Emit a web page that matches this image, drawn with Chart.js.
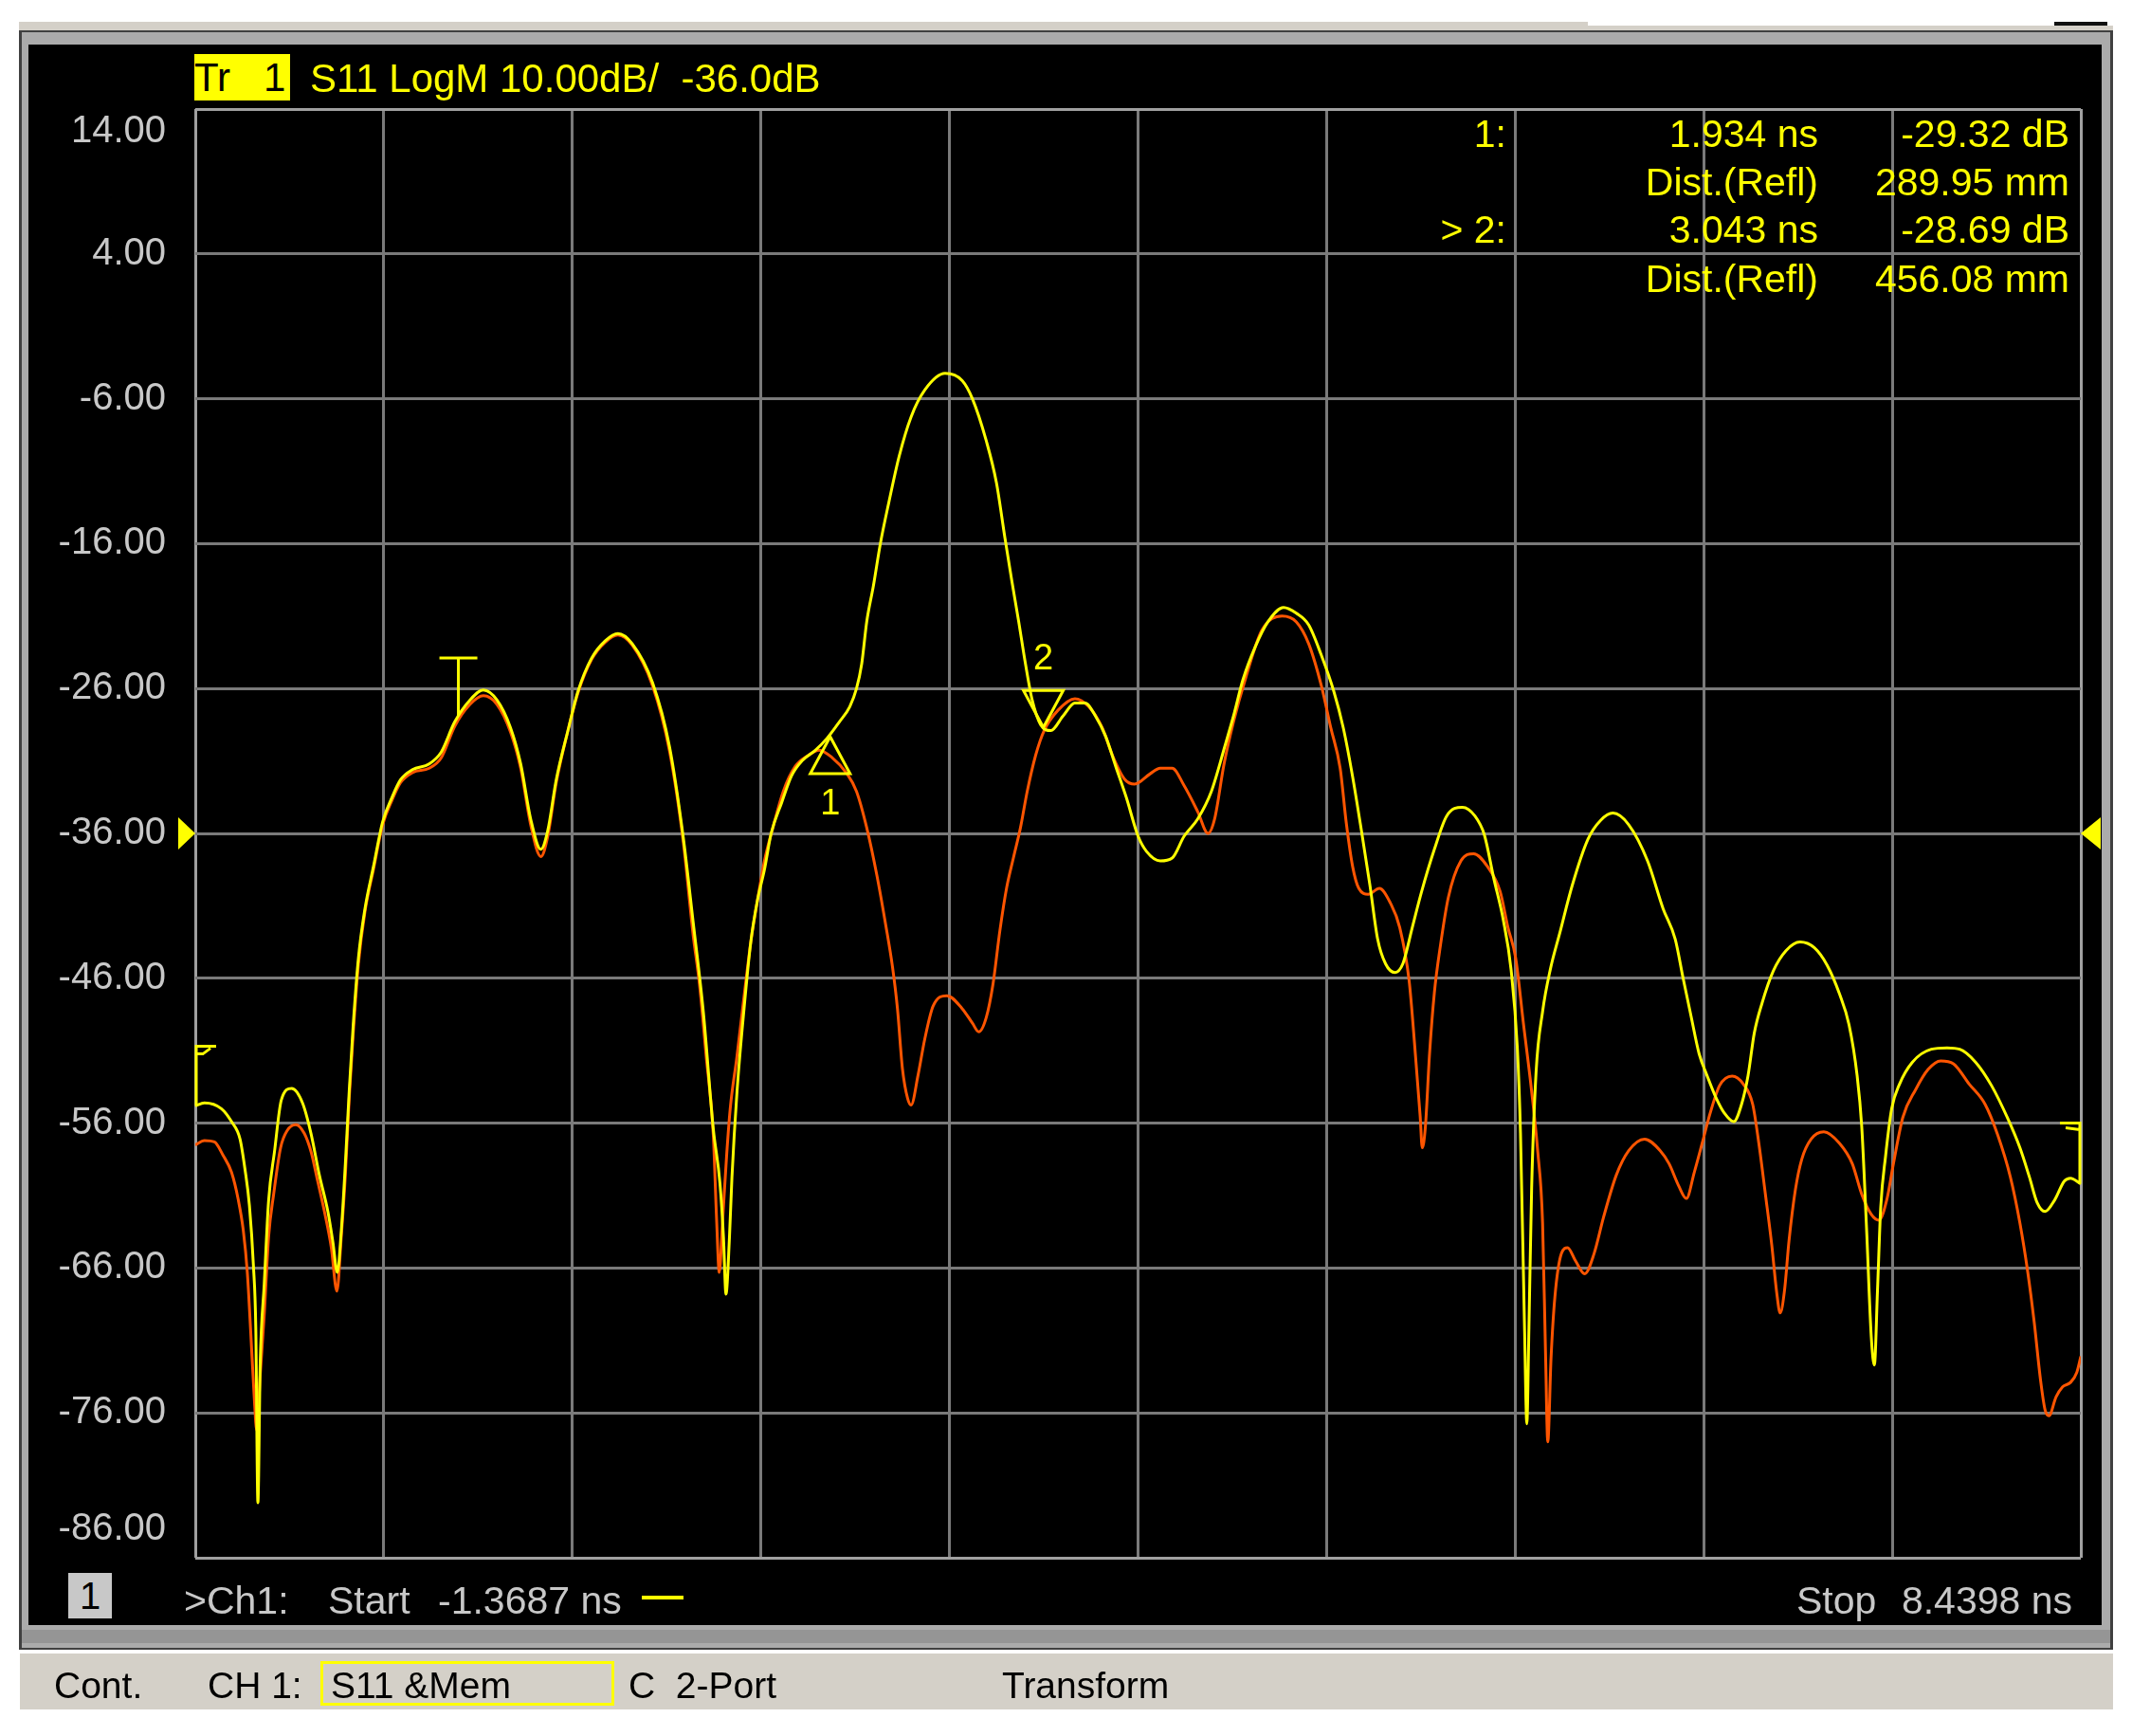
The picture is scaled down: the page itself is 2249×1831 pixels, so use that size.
<!DOCTYPE html>
<html>
<head>
<meta charset="utf-8">
<title>S11 LogM - Time Domain</title>
<script src="https://cdn.jsdelivr.net/npm/chart.js@4.4.1/dist/chart.umd.min.js"></script>
<style>
  html, body { margin: 0; padding: 0; background: #fff; }
  body { width: 2249px; height: 1831px; position: relative; overflow: hidden;
         font-family: "Liberation Sans", Arial, sans-serif; }
  .blk { position: absolute; }
  .txt { position: absolute; white-space: pre; z-index: 3; }
  .yel { color: #ffff00; font-size: 41px; line-height: 50px; }
  .gry { color: #c8c8c8; font-size: 41px; line-height: 50px; }
  .st  { color: #000; font-size: 39px; line-height: 44px; top: 1756px; }
  canvas { position: absolute; left: 0; top: 0; z-index: 2; }
</style>
</head>
<body>
  <!-- marco del instrumento -->
  <div class="blk" style="left:20px;top:23px;width:1655px;height:10px;background:#d4d0c8"></div>
  <div class="blk" style="left:1675px;top:27px;width:554px;height:6px;background:#d4d0c8"></div>
  <div class="blk" style="left:2167px;top:23px;width:56px;height:4px;background:#111"></div>
  <div class="blk" style="left:20px;top:32px;width:2209px;height:1708px;background:#404040"></div>
  <div class="blk" style="left:23px;top:34px;width:2203px;height:1704px;background:#ababab"></div>
  <div class="blk" style="left:23px;top:1719px;width:2203px;height:14px;background:#959595"></div>
  <div class="blk" style="left:30px;top:47px;width:2187px;height:1667px;background:#000"></div>
  <div class="blk" style="left:21px;top:1744px;width:2208px;height:59px;background:#d4d0c8"></div>

  <canvas id="vnaChart" width="2249" height="1831"></canvas>

  <!-- cabecera de la traza -->
  <div class="txt" style="left:205px;top:57px;width:101px;height:49px;background:#ffff00;color:#000;font-size:42px;line-height:49px;">Tr   1</div>
  <div class="txt yel" style="left:327px;top:58px;font-size:42px;">S11 LogM 10.00dB/  -36.0dB</div>

  <!-- tabla de marcadores -->
  <div class="txt yel" style="right:660px;top:116px;">1:</div>
  <div class="txt yel" style="right:331px;top:116px;">1.934 ns</div>
  <div class="txt yel" style="right:66px;top:116px;">-29.32 dB</div>
  <div class="txt yel" style="right:331px;top:167px;">Dist.(Refl)</div>
  <div class="txt yel" style="right:66px;top:167px;">289.95 mm</div>
  <div class="txt yel" style="right:660px;top:217px;">&gt; 2:</div>
  <div class="txt yel" style="right:331px;top:217px;">3.043 ns</div>
  <div class="txt yel" style="right:66px;top:217px;">-28.69 dB</div>
  <div class="txt yel" style="right:331px;top:269px;">Dist.(Refl)</div>
  <div class="txt yel" style="right:66px;top:269px;">456.08 mm</div>

  <!-- linea inferior del canal -->
  <div class="txt" style="left:72px;top:1659px;width:46px;height:48px;background:#c8c8c8;color:#000;font-size:40px;line-height:48px;text-align:center;">1</div>
  <div class="txt gry" style="left:194px;top:1663px;">&gt;Ch1:</div>
  <div class="txt gry" style="left:346px;top:1663px;">Start</div>
  <div class="txt gry" style="left:462px;top:1663px;">-1.3687 ns</div>
  <div class="blk" style="left:677px;top:1683px;width:44px;height:4px;background:#ffff00;z-index:3"></div>
  <div class="txt gry" style="left:1895px;top:1663px;">Stop</div>
  <div class="txt gry" style="right:63px;top:1663px;">8.4398 ns</div>

  <!-- barra de estado -->
  <div class="txt st" style="left:57px;">Cont.</div>
  <div class="txt st" style="left:219px;">CH 1:</div>
  <div class="blk" style="left:338px;top:1752px;width:310px;height:47px;border:3px solid #ffff00;box-sizing:border-box;z-index:3"></div>
  <div class="txt st" style="left:349px;">S11 &amp;Mem</div>
  <div class="txt st" style="left:663px;">C  2-Port</div>
  <div class="txt st" style="left:1057px;">Transform</div>

<script>
// Traza actual S11 (ns, dB)
const yellowTime = [-1.369,-1.321,-1.233,-1.180,-1.136,-1.110,-1.087,-1.066,-1.054,-1.043,-1.031,-1.010,-0.987,-0.957,-0.921,-0.867,-0.811,-0.767,-0.723,-0.679,-0.653,-0.630,-0.609,-0.588,-0.568,-0.547,-0.520,-0.486,-0.442,-0.394,-0.345,-0.301,-0.239,-0.152,-0.090,-0.019,0.060,0.130,0.201,0.271,0.324,0.376,0.429,0.465,0.509,0.570,0.622,0.693,0.764,0.830,0.904,1.010,1.098,1.169,1.221,1.274,1.326,1.361,1.379,1.392,1.410,1.423,1.449,1.486,1.521,1.556,1.592,1.627,1.681,1.734,1.787,1.858,1.920,1.982,2.036,2.071,2.098,2.124,2.159,2.195,2.240,2.293,2.355,2.426,2.532,2.621,2.674,2.746,2.799,2.843,2.878,2.915,2.950,2.985,3.029,3.082,3.145,3.207,3.260,3.314,3.367,3.420,3.474,3.536,3.580,3.651,3.713,3.775,3.846,3.917,3.989,4.032,4.081,4.146,4.211,4.293,4.359,4.423,4.489,4.554,4.603,4.652,4.701,4.742,4.782,4.823,4.872,4.913,4.962,5.011,5.077,5.141,5.223,5.288,5.337,5.386,5.436,5.476,5.509,5.525,5.546,5.558,5.569,5.583,5.606,5.640,5.680,5.729,5.794,5.876,5.942,6.006,6.088,6.186,6.267,6.330,6.371,6.412,6.454,6.495,6.544,6.585,6.634,6.675,6.709,6.741,6.782,6.840,6.906,6.979,7.054,7.120,7.185,7.234,7.276,7.300,7.325,7.350,7.366,7.382,7.399,7.424,7.456,7.497,7.563,7.662,7.744,7.810,7.893,7.975,8.057,8.123,8.172,8.213,8.254,8.304,8.354,8.386,8.440];
const yellowDb = [-54.8,-54.6,-55.0,-55.9,-57.1,-59.2,-61.7,-65.9,-70.1,-82.2,-72.6,-67.1,-61.3,-58.0,-54.4,-53.6,-54.6,-56.7,-59.6,-62.1,-64.2,-66.3,-63.4,-58.8,-53.8,-49.2,-44.6,-41.2,-38.3,-35.2,-33.5,-32.3,-31.6,-31.2,-30.4,-28.3,-26.8,-26.1,-26.8,-28.7,-31.2,-35.0,-37.1,-35.8,-32.3,-28.9,-26.2,-23.9,-22.7,-22.2,-22.9,-25.6,-30.0,-36.2,-42.1,-48.3,-56.4,-60.2,-63.9,-67.8,-63.9,-59.75,-53.9,-48.1,-43.5,-40.6,-38.5,-36.0,-33.9,-32.0,-31.0,-30.25,-29.4,-28.3,-27.25,-26.0,-24.3,-21.4,-18.9,-16.0,-13.1,-9.96,-7.25,-5.4,-4.25,-4.75,-6.0,-8.9,-11.8,-15.6,-18.5,-21.4,-24.3,-26.8,-28.5,-28.9,-27.9,-27.0,-27.0,-27.9,-29.3,-31.4,-33.5,-36.2,-37.25,-37.9,-37.7,-36.2,-35.0,-33.1,-29.9,-27.9,-25.4,-23.1,-21.4,-20.4,-20.8,-21.6,-23.7,-26.2,-28.7,-32.1,-36.1,-39.6,-43.3,-45.0,-45.6,-45.0,-42.5,-40.0,-37.1,-34.8,-34.2,-34.8,-36.1,-39.1,-42.0,-45.4,-50.9,-56.7,-70.1,-76.75,-70.1,-60.5,-52.5,-48.3,-45.4,-42.9,-39.6,-36.4,-35.1,-34.6,-35.4,-37.9,-41.2,-43.3,-46.0,-48.6,-51.2,-52.7,-54.3,-55.3,-55.9,-54.7,-52.7,-49.8,-47.7,-45.5,-44.1,-43.5,-43.9,-45.1,-47.1,-49.2,-52.7,-56.2,-63.2,-70.8,-72.7,-67.6,-61.8,-58.3,-55.0,-53.3,-51.8,-50.9,-50.8,-50.9,-51.8,-53.4,-55.6,-57.7,-59.7,-61.5,-62.1,-61.3,-60.0,-59.8,-60.2];

// Traza en memoria (ns, dB)
const memTime = [-1.369,-1.321,-1.269,-1.225,-1.180,-1.145,-1.119,-1.098,-1.080,-1.063,-1.049,-1.031,-1.010,-0.987,-0.961,-0.925,-0.890,-0.846,-0.802,-0.766,-0.732,-0.697,-0.661,-0.632,-0.609,-0.588,-0.568,-0.547,-0.520,-0.486,-0.442,-0.394,-0.345,-0.301,-0.239,-0.152,-0.090,-0.019,0.060,0.130,0.201,0.271,0.324,0.376,0.429,0.465,0.509,0.570,0.622,0.693,0.764,0.830,0.904,1.010,1.098,1.169,1.221,1.254,1.289,1.326,1.343,1.357,1.375,1.396,1.414,1.449,1.486,1.521,1.556,1.592,1.636,1.690,1.751,1.822,1.876,1.947,2.017,2.071,2.124,2.177,2.222,2.258,2.284,2.310,2.337,2.355,2.391,2.426,2.470,2.541,2.621,2.674,2.707,2.746,2.781,2.817,2.852,2.887,2.924,2.959,3.003,3.047,3.119,3.207,3.279,3.349,3.402,3.465,3.518,3.597,3.651,3.713,3.775,3.846,3.900,3.934,3.983,4.032,4.097,4.179,4.285,4.359,4.423,4.489,4.538,4.587,4.619,4.652,4.684,4.733,4.791,4.848,4.897,4.946,4.978,5.003,5.014,5.030,5.052,5.077,5.109,5.150,5.215,5.281,5.354,5.419,5.460,5.500,5.541,5.583,5.615,5.640,5.655,5.667,5.684,5.704,5.738,5.770,5.811,5.859,5.908,5.957,6.023,6.088,6.170,6.252,6.298,6.347,6.388,6.429,6.470,6.512,6.561,6.626,6.684,6.733,6.765,6.799,6.832,6.857,6.876,6.898,6.922,6.955,6.988,7.037,7.103,7.185,7.251,7.300,7.350,7.390,7.432,7.465,7.514,7.580,7.645,7.711,7.777,7.859,7.942,8.007,8.073,8.123,8.164,8.197,8.230,8.254,8.274,8.311,8.345,8.386,8.419,8.440];
const memDb = [-57.5,-57.2,-57.3,-58.2,-59.4,-61.3,-63.4,-66.3,-70.5,-74.7,-77.2,-73.4,-69.2,-63.8,-60.9,-57.7,-56.5,-56.1,-56.7,-58.0,-60.0,-62.1,-64.6,-67.6,-63.8,-59.6,-54.3,-49.8,-45.0,-41.4,-38.5,-35.4,-33.7,-32.5,-31.8,-31.5,-30.8,-28.6,-27.1,-26.5,-27.1,-29.0,-31.5,-35.4,-37.6,-36.2,-32.5,-28.9,-26.3,-24.0,-22.8,-22.3,-23.0,-25.8,-30.3,-36.5,-43.0,-46.4,-51.4,-56.8,-62.6,-66.3,-62.6,-58.1,-55.0,-51.4,-47.25,-43.5,-40.6,-37.9,-35.6,-33.1,-31.4,-30.6,-30.25,-30.8,-31.8,-33.1,-35.6,-38.9,-42.25,-45.2,-48.1,-52.25,-54.3,-54.75,-52.7,-50.2,-47.9,-47.2,-48.1,-49.1,-49.7,-48.7,-46.4,-42.7,-39.75,-37.7,-35.6,-33.1,-30.6,-28.9,-27.5,-26.7,-27.25,-28.7,-30.6,-32.25,-32.6,-31.9,-31.5,-31.5,-32.7,-34.5,-36.0,-35.0,-31.2,-28.3,-25.2,-22.0,-21.0,-21.4,-22.9,-25.8,-28.7,-31.5,-35.3,-38.3,-39.8,-40.2,-39.8,-40.8,-42.5,-46.2,-51.2,-55.5,-57.7,-56.3,-51.2,-47.0,-43.7,-40.4,-37.9,-37.4,-38.3,-40.0,-42.5,-44.6,-49.2,-53.8,-58.0,-62.9,-71.7,-78.0,-72.2,-68.0,-65.0,-64.6,-65.5,-66.4,-65.0,-62.5,-59.6,-57.9,-57.1,-57.9,-58.8,-60.3,-61.2,-59.4,-57.4,-55.3,-53.4,-52.75,-53.3,-54.7,-57.4,-60.9,-64.4,-67.6,-69.1,-67.6,-64.1,-60.6,-58.5,-57.1,-56.6,-57.4,-58.8,-60.9,-62.3,-62.7,-61.2,-58.8,-55.6,-53.7,-52.3,-51.7,-51.9,-53.3,-54.7,-56.8,-59.7,-62.9,-66.3,-69.7,-73.7,-75.8,-76.2,-74.9,-74.2,-73.9,-73.2,-72.1];

// Rejilla: 10 divisiones entre Start y Stop, 10 dB/div
const xGridTimes = [-1.3687, -0.3879, 0.5930, 1.5738, 2.5547, 3.5356, 4.5164, 5.4973, 6.4781, 7.4590, 8.4398];
const yTickValues = [14, 4, -6, -16, -26, -36, -46, -56, -66, -76, -86];
const yTickLabels = ['14.00', '4.00', '-6.00', '-16.00', '-26.00', '-36.00', '-46.00', '-56.00', '-66.00', '-76.00', '-86.00'];
const refLevel = -36;

// Marcadores
const markerTimes = [1.934, 3.043];
const markerValues = [-29.32, -28.69];
const markerNames = ['1', '2'];

// Marca en T (0 ns) y banderas de inicio/fin de traza
const teeTime = 0.0;
const teeValues = [-27.9, -23.9];
const startFlagValues = [-54.8, -50.7];
const endFlagValues = [-60.2, -56.0];

const YELLOW = '#ffff00';
const ORANGE = '#ff5500';

window.addEventListener('DOMContentLoaded', () => {
    const vnaDecor = {
        id: 'vnaDecor',
        afterDraw(chart) {
            const ctx = chart.ctx;
            const area = chart.chartArea;
            const xs = chart.scales.x;
            const ys = chart.scales.y;
            ctx.save();

            // Etiquetas del eje Y
            ctx.font = '40px "Liberation Sans", Arial, sans-serif';
            ctx.fillStyle = '#c8c8c8';
            ctx.textAlign = 'right';
            ctx.textBaseline = 'middle';
            yTickValues.forEach((v, i) => {
                let y = ys.getPixelForValue(v);
                if (i === 0) y += 24;
                if (i === yTickValues.length - 1) y -= 30;
                ctx.fillText(yTickLabels[i], area.left - 31, y);
            });

            // Triángulos del nivel de referencia
            const yr = ys.getPixelForValue(refLevel);
            ctx.fillStyle = YELLOW;
            ctx.beginPath();
            ctx.moveTo(area.left - 18, yr - 17);
            ctx.lineTo(area.left, yr);
            ctx.lineTo(area.left - 18, yr + 17);
            ctx.closePath();
            ctx.fill();
            ctx.beginPath();
            ctx.moveTo(area.right + 21, yr - 17);
            ctx.lineTo(area.right, yr);
            ctx.lineTo(area.right + 21, yr + 17);
            ctx.closePath();
            ctx.fill();

            ctx.strokeStyle = YELLOW;
            ctx.lineWidth = 3;

            // Marcadores 1 y 2
            ctx.font = '38px "Liberation Sans", Arial, sans-serif';
            ctx.textAlign = 'center';
            markerTimes.forEach((t, i) => {
                const x = xs.getPixelForValue(t);
                const y = ys.getPixelForValue(markerValues[i]);
                const dir = i === 1 ? -1 : 1;
                ctx.beginPath();
                ctx.moveTo(x, y);
                ctx.lineTo(x - 21, y + dir * 39);
                ctx.lineTo(x + 21, y + dir * 39);
                ctx.closePath();
                ctx.stroke();
                ctx.fillText(markerNames[i], x, y + dir * 72);
            });

            // Marca en T
            const xt = xs.getPixelForValue(teeTime);
            const yt0 = ys.getPixelForValue(teeValues[0]);
            const yt1 = ys.getPixelForValue(teeValues[1]);
            ctx.beginPath();
            ctx.moveTo(xt, yt0);
            ctx.lineTo(xt, yt1);
            ctx.moveTo(xt - 20, yt1);
            ctx.lineTo(xt + 20, yt1);
            ctx.stroke();

            // Banderas de inicio y fin de la traza
            const ys0 = ys.getPixelForValue(startFlagValues[0]);
            const ys1 = ys.getPixelForValue(startFlagValues[1]);
            ctx.beginPath();
            ctx.moveTo(area.left + 1, ys0);
            ctx.lineTo(area.left + 1, ys1);
            ctx.lineTo(area.left + 22, ys1);
            ctx.moveTo(area.left + 1, ys1 + 8);
            ctx.lineTo(area.left + 8, ys1 + 8);
            ctx.lineTo(area.left + 16, ys1 + 2);
            ctx.stroke();
            const ye0 = ys.getPixelForValue(endFlagValues[0]);
            const ye1 = ys.getPixelForValue(endFlagValues[1]);
            ctx.beginPath();
            ctx.moveTo(area.right - 1, ye0);
            ctx.lineTo(area.right - 1, ye1);
            ctx.lineTo(area.right - 22, ye1);
            ctx.moveTo(area.right - 1, ye1 + 7);
            ctx.lineTo(area.right - 16, ye1 + 5);
            ctx.stroke();

            ctx.restore();
        }
    };

    const gridColor = (c) => (c.index === 0 || c.index === 10) ? '#a0a0a0' : '#7a7a7a';

    const ctxVna = document.getElementById('vnaChart').getContext('2d');
    new Chart(ctxVna, {
        type: 'line',
        data: {
            datasets: [{
                label: 'S11',
                data: yellowTime.map((t, i) => ({ x: t, y: yellowDb[i] })),
                borderColor: YELLOW,
                borderWidth: 3,
                pointRadius: 0,
                cubicInterpolationMode: 'monotone'
            }, {
                label: 'Mem',
                data: memTime.map((t, i) => ({ x: t, y: memDb[i] })),
                borderColor: ORANGE,
                borderWidth: 3,
                pointRadius: 0,
                cubicInterpolationMode: 'monotone'
            }]
        },
        options: {
            responsive: false,
            animation: false,
            devicePixelRatio: 1,
            layout: { padding: { left: 206, top: 115, right: 54, bottom: 188 } },
            plugins: { legend: { display: false }, tooltip: { enabled: false } },
            scales: {
                x: {
                    type: 'linear',
                    min: xGridTimes[0],
                    max: xGridTimes[xGridTimes.length - 1],
                    afterBuildTicks: (axis) => { axis.ticks = xGridTimes.map(v => ({ value: v })); },
                    ticks: { display: false },
                    border: { display: false },
                    grid: { color: gridColor, lineWidth: 3, drawTicks: false }
                },
                y: {
                    type: 'linear',
                    min: -86,
                    max: 14,
                    afterBuildTicks: (axis) => { axis.ticks = yTickValues.map(v => ({ value: v })); },
                    ticks: { display: false },
                    border: { display: false },
                    grid: { color: gridColor, lineWidth: 3, drawTicks: false }
                }
            }
        },
        plugins: [vnaDecor]
    });
});
</script>
</body>
</html>
